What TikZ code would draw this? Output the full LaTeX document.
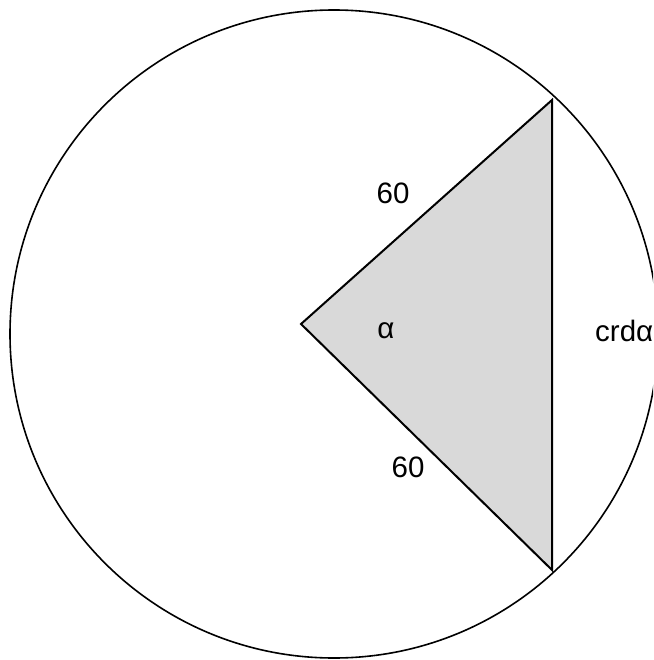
\documentclass[tikz,border=0pt]{standalone}
\usepackage{fontspec}
\setmainfont{Liberation Sans}
\usepackage{xcolor}
\definecolor{cLine}{HTML}{000000}
\definecolor{cFill}{HTML}{D9D9D9}
\usetikzlibrary{positioning,calc}
\tikzset{
  circ-line/.style={draw=cLine,line width=1.6pt},
  tri-line/.style={draw=cLine,line width=2pt,fill=cFill,line join=miter},
  lbl/.style={inner sep=0pt,font=\fontsize{29.5}{33}\selectfont},
}
\begin{document}
\begin{tikzpicture}[x=1pt,y=-1pt]
  \useasboundingbox (0,0) rectangle (653,660);
  \coordinate (o) at (334,334);
  \coordinate (apex) at (301,324);
  \coordinate (top) at (552,100);
  \coordinate (bot) at (552,570);
  \begin{scope}
    \clip (0,0) rectangle (653,660);
    \draw[circ-line] (o) circle[radius=324];
  \end{scope}
  \filldraw[tri-line] (apex) -- (top) -- (bot) -- cycle;
  \node[lbl] (r-top) at (393,193.5) {60};
  \node[lbl] (r-bot) at (408,467.5) {60};
  \node[lbl] (ang) at (386,331) {α};
  \begin{scope}
    \clip (0,0) rectangle (653,660);
    \node[lbl,anchor=west] (crd) at (595,331) {crdα};
  \end{scope}
\end{tikzpicture}
\end{document}
